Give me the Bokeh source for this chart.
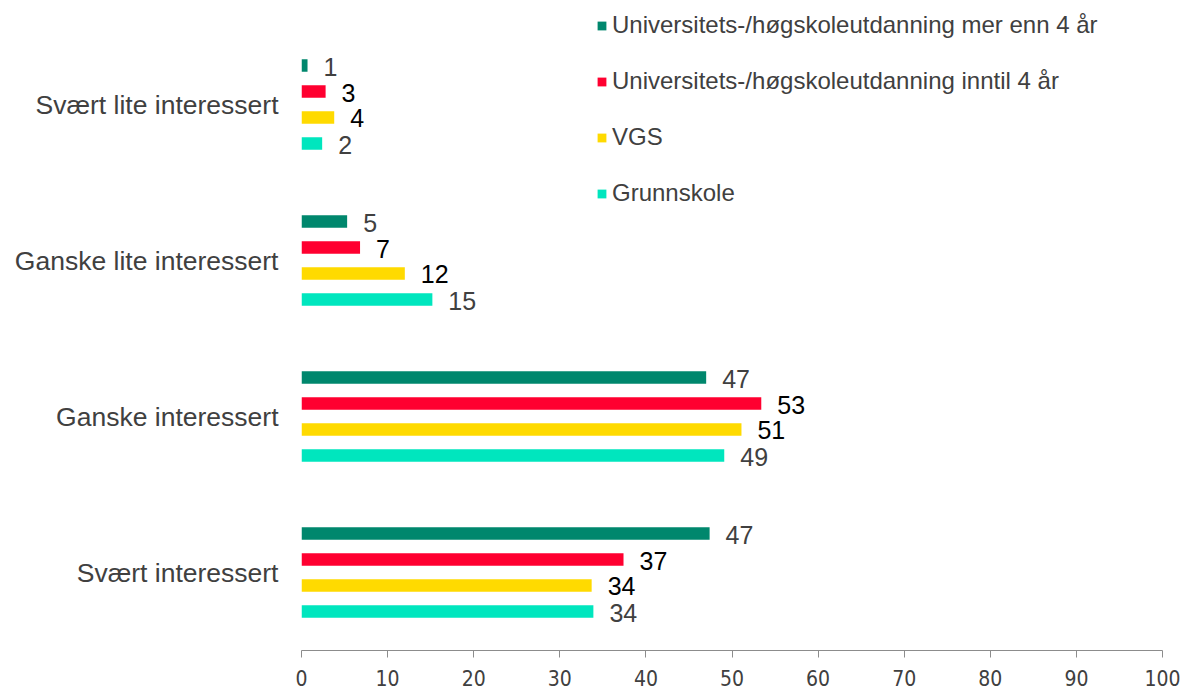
from bokeh.plotting import figure
from bokeh.models import ColumnDataSource, Legend, LegendItem, Range1d, FixedTicker
from bokeh.transform import dodge
from bokeh.embed import file_html
from bokeh.resources import INLINE
from bokeh.core.properties import value

categories = ["Svært lite interessert", "Ganske lite interessert", "Ganske interessert", "Svært interessert"]
series_names = ["Universitets-/høgskoleutdanning mer enn 4 år",
                "Universitets-/høgskoleutdanning inntil 4 år",
                "VGS", "Grunnskole"]
uni_long = [0.7, 5.3, 47.0, 47.4]
uni_short = [2.8, 6.8, 53.4, 37.4]
vgs = [3.8, 12.0, 51.1, 33.7]
grunnskole = [2.4, 15.2, 49.1, 33.9]
x_ticks = [0, 10, 20, 30, 40, 50, 60, 70, 80, 90, 100]

colors = ["#00876D", "#FF0030", "#FFDA00", "#00E6BE"]
label_colors = ["#404040", "#000000", "#000000", "#404040"]
offsets = [0.25, 0.0833, -0.0833, -0.25]
series_values = [uni_long, uni_short, vgs, grunnskole]

FONT = "Liberation Sans"
NARROW = "Liberation Sans Narrow, DejaVu Sans Condensed, Liberation Sans"

n = len(categories)
# category slot centres, first category at the top
cat_pos = [n - 0.5 - i for i in range(n)]

p = figure(width=1185, height=690, output_backend="svg", toolbar_location=None,
           y_range=Range1d(0, n + 0.1667), x_range=Range1d(0, 100),
           min_border_left=301, min_border_top=0, min_border_right=23, min_border_bottom=40)
p.outline_line_color = None
p.grid.grid_line_color = None
p.background_fill_color = "white"
p.border_fill_color = "white"

items = []
for name, vals, col, lcol, off in zip(series_names, series_values, colors, label_colors, offsets):
    src = ColumnDataSource(dict(pos=cat_pos, val=vals,
                                lab=[str(int(round(v))) for v in vals]))
    r = p.hbar(y=dodge("pos", off), right="val", left=0, height=0.08,
               source=src, fill_color=col, line_color=None)
    p.text(x="val", y=dodge("pos", off), text="lab", source=src,
           x_offset=16, y_offset=1, text_baseline="middle", text_align="left",
           text_font=value(FONT), text_font_size="25px", text_color=lcol)
    items.append(LegendItem(label=name, renderers=[r]))

legend = Legend(items=items, location=(295, 443), orientation="vertical",
                label_text_font=FONT, label_text_font_size="24px", label_text_color="#404040",
                glyph_width=11, glyph_height=11, label_standoff=5, spacing=28,
                label_height=28, padding=0, margin=0,
                border_line_color=None, background_fill_alpha=0)
p.add_layout(legend, "center")

xa = p.xaxis[0]
xa.ticker = FixedTicker(ticks=x_ticks)
xa.axis_line_color = "#8C8C8C"
xa.major_tick_line_color = "#8C8C8C"
xa.major_tick_out = 7
xa.major_tick_in = 0
xa.minor_tick_line_color = None
xa.major_label_text_font = NARROW
xa.major_label_text_font_size = "21px"
xa.major_label_text_color = "#404040"
xa.major_label_standoff = 12

ya = p.yaxis[0]
ya.ticker = FixedTicker(ticks=cat_pos)
ya.major_label_overrides = {pos: cat for pos, cat in zip(cat_pos, categories)}
ya.axis_line_color = None
ya.major_tick_line_color = None
ya.minor_tick_line_color = None
ya.major_label_text_font = FONT
ya.major_label_text_font_size = "26.5px"
ya.major_label_text_color = "#404040"
ya.major_label_standoff = 17

open("out.html", "w").write(file_html(p, INLINE))
